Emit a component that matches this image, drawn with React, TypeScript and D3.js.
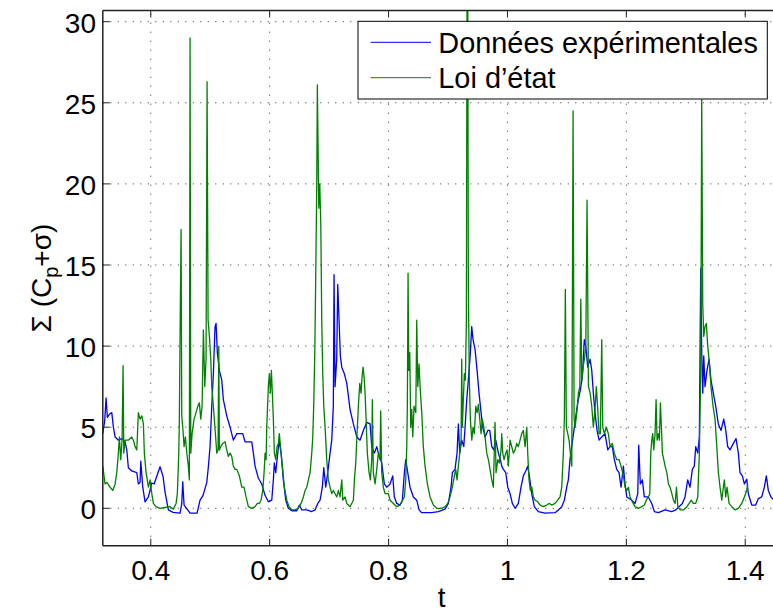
import React from "react";
import * as d3 from "d3";

// ---- data ----
const xTicks = [0.4, 0.6, 0.8, 1.0, 1.2, 1.4];
const xTickLabels = ["0.4", "0.6", "0.8", "1", "1.2", "1.4"];
const yTicks = [0, 5, 10, 15, 20, 25, 30];
const yTickLabels = ["0", "5", "10", "15", "20", "25", "30"];
const seriesNames = ["Données expérimentales", "Loi d\u2019état"];
const seriesColors = ["#0000ff", "#008000"];

const blueSeries: [number, number][] = [
  [0.3193,4.6],[0.3225,5.4],[0.3248,6.8],[0.327,5.6],[0.3304,5.8],[0.3344,5.9],[0.3371,5.0],[0.340,4.4],[0.3455,4.2],[0.3512,4.3],[0.3568,4.1],[0.3596,3.6],[0.3623,2.5],[0.368,2.3],[0.3765,2.2],[0.3791,1.5],[0.382,1.6],[0.3832,2.9],[0.3865,1.3],[0.3904,0.4],[0.396,0.7],[0.4017,1.56],[0.4056,1.5],[0.4156,2.56],[0.4207,1.95],[0.424,1.0],[0.4296,-0.1],[0.4375,-0.25],[0.4493,-0.3],[0.4521,0.3],[0.4538,1.64],[0.456,0.2],[0.4661,-0.3],[0.4779,-0.3],[0.4829,0.5],[0.488,0.8],[0.4942,1.6],[0.4969,2.56],[0.4997,3.8],[0.5026,6.3],[0.5053,8.3],[0.5081,11.2],[0.5098,11.4],[0.512,9.6],[0.5154,8.5],[0.5194,7.9],[0.5221,6.7],[0.5278,5.7],[0.5334,5.0],[0.5389,4.2],[0.5447,4.6],[0.5502,4.6],[0.5547,4.6],[0.5586,4.1],[0.5699,4.1],[0.5726,3.4],[0.5754,2.6],[0.581,1.85],[0.5867,1.5],[0.5922,0.8],[0.5978,0.4],[0.6035,0.5],[0.6062,1.75],[0.6078,2.8],[0.6102,2.2],[0.6136,3.4],[0.6158,4.2],[0.6192,3.4],[0.623,1.75],[0.6271,0.5],[0.6314,0],[0.6372,-0.15],[0.6456,-0.15],[0.65,0.2],[0.654,-0.1],[0.6624,-0.1],[0.6708,-0.2],[0.6764,-0.1],[0.6809,0.3],[0.6848,0.5],[0.6886,1.3],[0.691,2.5],[0.6943,1.3],[0.6977,2.2],[0.7016,3.4],[0.7044,4.2],[0.7071,6.3],[0.7083,14.4],[0.71,7.5],[0.7128,9.2],[0.7145,13.8],[0.7167,11.6],[0.7189,9.4],[0.7213,8.7],[0.7256,8.3],[0.7297,7.7],[0.7352,6.1],[0.7408,5.2],[0.7465,4.4],[0.752,4.2],[0.7576,4.8],[0.7633,5.3],[0.7689,5.2],[0.7717,3.8],[0.7761,3.4],[0.7801,3.8],[0.7828,3.4],[0.7885,2.8],[0.7929,1.5],[0.7969,1.3],[0.8025,1.5],[0.807,2.0],[0.8097,0.7],[0.8138,0.3],[0.8193,0.2],[0.8232,0.5],[0.8266,2.2],[0.8289,3.0],[0.8323,2.2],[0.8361,1.3],[0.8417,0.7],[0.8474,0.5],[0.8513,-0.1],[0.8558,-0.27],[0.8726,-0.27],[0.8837,-0.2],[0.895,-0.05],[0.9006,0.3],[0.9051,1.3],[0.9073,2.2],[0.9118,2.4],[0.9152,3.4],[0.9174,5.2],[0.9197,3.4],[0.9231,4.2],[0.9265,3.8],[0.9287,5.0],[0.9315,6.7],[0.9342,7.9],[0.9376,9.6],[0.9399,11.2],[0.9421,10.4],[0.9455,9.8],[0.9489,8.5],[0.9522,7.1],[0.9556,5.9],[0.9584,5.0],[0.9623,4.4],[0.9669,4.8],[0.9702,4.8],[0.9736,3.8],[0.977,3.6],[0.9803,4.2],[0.9847,3.4],[0.9881,3.0],[0.9904,2.6],[0.9931,2.4],[0.9971,2.2],[1.0005,1.3],[1.0044,0.9],[1.0082,0.3],[1.0128,0],[1.0183,0.3],[1.0228,1.3],[1.0267,2.0],[1.0308,2.3],[1.0341,2.6],[1.0368,2.0],[1.0408,0.9],[1.0452,0.1],[1.0519,-0.2],[1.0632,-0.3],[1.08,-0.27],[1.0856,-0.1],[1.0913,0.1],[1.0957,0.5],[1.0997,1.3],[1.1024,1.75],[1.1052,3.0],[1.1081,3.8],[1.1125,5.0],[1.1158,5.9],[1.1192,6.7],[1.1226,7.3],[1.126,8.1],[1.1293,10.4],[1.1317,10.0],[1.135,8.7],[1.1389,9.2],[1.1418,8.5],[1.1445,7.1],[1.1473,5.9],[1.1507,4.8],[1.1541,4.2],[1.1586,4.4],[1.1641,4.6],[1.1687,3.6],[1.1726,3.8],[1.1764,3.8],[1.1798,3.0],[1.1838,2.4],[1.1877,2.2],[1.1911,1.3],[1.195,2.6],[1.1978,1.5],[1.2007,0.7],[1.2091,0.5],[1.2147,0.3],[1.2192,0.9],[1.2208,3.9],[1.2235,1.5],[1.2269,1.75],[1.2302,0.7],[1.237,0.7],[1.2427,0.3],[1.2471,-0.2],[1.2538,-0.27],[1.2651,-0.1],[1.2763,-0.2],[1.2831,-0.1],[1.2886,0.1],[1.2942,0.3],[1.2987,0.7],[1.3032,1.75],[1.3071,1.3],[1.311,2.4],[1.3143,2.6],[1.3167,3.8],[1.3201,3.4],[1.3228,4.4],[1.3251,14.8],[1.3268,9.6],[1.3285,7.1],[1.3302,9.4],[1.3323,7.5],[1.3357,8.5],[1.3391,9.2],[1.3424,7.9],[1.3463,7.1],[1.3503,6.3],[1.3547,5.2],[1.3593,4.8],[1.3638,5.5],[1.3672,4.8],[1.3705,3.8],[1.3744,3.6],[1.38,4.0],[1.3845,4.3],[1.3884,3.4],[1.3912,2.2],[1.3951,2.0],[1.3985,1.5],[1.4025,1.8],[1.4052,0.9],[1.4109,0.2],[1.4176,0.2],[1.422,0.6],[1.4277,0.7],[1.4321,1.3],[1.4355,2.0],[1.4388,1.1],[1.4433,0.7],[1.4483,0.5],[1.452,0.4]
];

const greenSeries: [number, number][] = [
  [0.3193,2.6],[0.3231,1.5],[0.326,1.6],[0.3315,1.3],[0.3361,1.1],[0.34,1.5],[0.3428,2.2],[0.3455,3.4],[0.3472,4.4],[0.3495,3.0],[0.3517,4.2],[0.3534,8.8],[0.3546,3.4],[0.3568,4.2],[0.3623,4.2],[0.368,4.4],[0.3707,4.2],[0.3736,3.8],[0.3765,3.6],[0.3791,5.9],[0.382,5.5],[0.3849,5.7],[0.3876,5.2],[0.3892,3.4],[0.3921,2.2],[0.396,1.3],[0.3988,1.75],[0.4017,0.9],[0.4044,0.3],[0.4089,0.1],[0.4156,0],[0.424,0.05],[0.4325,0.1],[0.438,-0.05],[0.4426,0.3],[0.4447,0.9],[0.4471,3.4],[0.4481,5.5],[0.4498,12.9],[0.451,17.2],[0.4521,5.7],[0.4538,5.0],[0.456,3.8],[0.4582,4.4],[0.4606,3.4],[0.4632,2.6],[0.4649,1.75],[0.4661,29.0],[0.4673,3.4],[0.4695,4.6],[0.4728,5.5],[0.4762,5.9],[0.4791,6.3],[0.4817,6.5],[0.4841,5.5],[0.4863,6.3],[0.4885,11.0],[0.4908,7.5],[0.493,9.2],[0.4947,26.3],[0.4964,11.6],[0.4986,10.6],[0.5009,9.2],[0.5026,7.5],[0.5053,6.3],[0.5087,4.6],[0.511,3.4],[0.5132,3.6],[0.5144,10.0],[0.5154,3.6],[0.5177,3.8],[0.5211,4.0],[0.525,4.1],[0.5278,3.6],[0.5305,3.2],[0.5334,3.4],[0.5362,3.2],[0.5389,2.6],[0.5418,2.4],[0.5447,2.4],[0.549,2.0],[0.5531,1.3],[0.5569,1.3],[0.5603,0.7],[0.5642,0.1],[0.5699,0],[0.5754,0.1],[0.5793,0.3],[0.5827,0.3],[0.5855,0.5],[0.5884,1.1],[0.5906,2.2],[0.5923,3.4],[0.594,3.0],[0.5951,5.0],[0.5978,7.5],[0.5995,8.3],[0.6012,7.1],[0.6029,8.5],[0.6045,7.1],[0.6062,5.5],[0.6079,3.4],[0.6103,3.0],[0.6124,3.8],[0.6146,4.0],[0.6163,4.6],[0.6187,3.6],[0.6214,2.6],[0.6247,1.3],[0.6288,0.5],[0.6326,0.1],[0.6372,-0.1],[0.6427,-0.1],[0.6483,0],[0.6528,0.3],[0.6567,0.7],[0.6596,1.1],[0.6624,1.3],[0.6651,1.75],[0.668,2.2],[0.6708,3.4],[0.6725,4.4],[0.6742,6.5],[0.6759,9.6],[0.6775,14.3],[0.6792,20.0],[0.6802,26.1],[0.6814,22.4],[0.6826,18.5],[0.6843,20.0],[0.686,17.5],[0.6876,11.6],[0.6893,8.3],[0.691,6.3],[0.6932,5.0],[0.696,3.0],[0.6987,1.75],[0.7016,1.3],[0.7044,0.9],[0.7071,1.1],[0.71,0.9],[0.7129,0.7],[0.7156,1.1],[0.7184,0.7],[0.7213,1.75],[0.723,0.5],[0.7268,0.7],[0.7297,0.3],[0.7352,0.1],[0.7408,0.5],[0.7425,1.75],[0.7448,2.8],[0.747,4.6],[0.7492,6.3],[0.7516,7.7],[0.7537,7.1],[0.7554,8.1],[0.7571,8.7],[0.7588,8.1],[0.7605,7.1],[0.7622,5.5],[0.7643,3.4],[0.7672,2.2],[0.7694,1.75],[0.7717,3.0],[0.7727,6.7],[0.7744,2.2],[0.7773,1.5],[0.7801,2.4],[0.7828,3.4],[0.7856,3.0],[0.7868,6.0],[0.7885,2.2],[0.7912,1.3],[0.7941,0.9],[0.7997,0.9],[0.8025,0.5],[0.8081,0.3],[0.8138,0.1],[0.8193,0.2],[0.8266,0.7],[0.8289,1.75],[0.8306,3.8],[0.8316,6.3],[0.8328,14.5],[0.834,8.5],[0.8357,9.6],[0.8373,5.0],[0.839,6.1],[0.8407,4.4],[0.8429,6.3],[0.8458,5.9],[0.8474,11.6],[0.8491,7.5],[0.8513,8.9],[0.853,7.5],[0.8558,5.9],[0.8585,3.8],[0.8614,2.6],[0.8653,1.5],[0.8698,0.7],[0.8754,0.2],[0.8811,0],[0.8895,0],[0.895,0.1],[0.8996,0.3],[0.9034,0.7],[0.9073,1.3],[0.9107,2.0],[0.913,2.4],[0.9152,1.75],[0.9174,2.6],[0.9197,3.4],[0.922,4.2],[0.9231,9.2],[0.9241,5.0],[0.9258,6.7],[0.9275,8.3],[0.9292,7.9],[0.9309,11.6],[0.932,32],[0.9332,32],[0.9342,13.7],[0.9359,7.9],[0.9376,5.5],[0.94,4.2],[0.9421,5.0],[0.9443,4.6],[0.9467,6.3],[0.9489,5.9],[0.9511,6.4],[0.9534,5.5],[0.9556,4.6],[0.9578,5.5],[0.9601,5.0],[0.9623,4.4],[0.9652,3.4],[0.9679,3.0],[0.9707,2.4],[0.9736,1.75],[0.9763,1.3],[0.9791,5.3],[0.9808,2.2],[0.9837,3.0],[0.9864,2.8],[0.9892,3.6],[0.9904,4.6],[0.9921,3.4],[0.9943,3.0],[0.9971,3.4],[0.9993,3.6],[1.0015,2.6],[1.0044,4.2],[1.0072,3.8],[1.0099,3.4],[1.0128,3.6],[1.0156,4.0],[1.0183,3.8],[1.0212,4.2],[1.024,4.6],[1.0267,4.8],[1.0296,3.8],[1.0325,5.0],[1.0341,3.4],[1.0363,1.75],[1.0385,1.1],[1.0409,1.3],[1.0436,0.7],[1.0464,0.5],[1.051,0.4],[1.0549,0.2],[1.0604,0.1],[1.0661,0.2],[1.07,0.3],[1.0745,0.2],[1.0801,0.3],[1.0846,0.5],[1.0885,0.7],[1.0913,1.3],[1.094,3.4],[1.0957,5.5],[1.0974,13.5],[1.0991,5.0],[1.1014,4.6],[1.1036,4.2],[1.1058,3.4],[1.1082,2.6],[1.1104,24.5],[1.1121,5.5],[1.1138,5.0],[1.1166,5.9],[1.1193,7.1],[1.1217,7.5],[1.1234,12.9],[1.125,7.9],[1.1273,8.7],[1.1294,9.2],[1.1318,10.0],[1.1339,19.0],[1.1362,7.5],[1.1391,7.1],[1.1418,6.3],[1.1445,5.0],[1.1473,6.1],[1.1495,7.5],[1.1519,6.1],[1.1541,4.6],[1.1563,4.6],[1.1586,10.4],[1.1603,5.0],[1.163,4.6],[1.1664,5.0],[1.1697,4.6],[1.1726,3.8],[1.1764,4.0],[1.1798,3.4],[1.1838,3.0],[1.1877,3.0],[1.1911,2.6],[1.195,2.0],[1.1978,1.3],[1.2007,1.1],[1.2034,1.3],[1.2062,0.7],[1.2101,0.4],[1.2147,0.1],[1.2202,0],[1.2259,0.1],[1.2303,0.2],[1.2336,0.5],[1.237,0.7],[1.2394,0.9],[1.2411,3.4],[1.2427,4.2],[1.2444,4.6],[1.2461,3.6],[1.2483,4.6],[1.25,6.7],[1.2517,4.2],[1.2539,4.6],[1.2556,4.2],[1.2573,6.5],[1.259,5.0],[1.2606,3.4],[1.263,3.0],[1.2652,2.6],[1.2681,2.2],[1.2708,1.5],[1.2736,1.3],[1.2765,0.9],[1.2792,0.5],[1.2821,0.3],[1.2843,1.3],[1.2866,0.1],[1.2905,-0.1],[1.2961,-0.1],[1.3018,0.1],[1.3057,0.3],[1.3091,0.5],[1.3127,0.3],[1.3167,0.3],[1.3201,0.7],[1.3228,3.4],[1.3251,8.5],[1.3268,25.2],[1.3285,12.6],[1.3302,10.6],[1.3323,11.2],[1.3345,11.4],[1.3369,10.0],[1.3391,9.2],[1.3424,7.5],[1.3458,6.3],[1.3492,5.5],[1.3521,3.8],[1.3548,2.2],[1.3576,1.3],[1.3605,0.5],[1.3632,1.3],[1.3648,1.75],[1.3672,0.7],[1.3694,1.3],[1.3728,0.3],[1.3773,0.1],[1.3829,-0.1],[1.3884,0],[1.3941,0.3],[1.3985,0.7],[1.4025,1.1],[1.4042,1.5]
];

// ---- layout ----
const W = 773;
const H = 612;
const PL = 102.8, PR = 780.5, PT = 10.5, PB = 545.7;
const FONT = "'Liberation Sans', Arial, Helvetica, sans-serif";

export default function App() {
  const x = d3.scaleLinear().domain([0.3193, 1.4593]).range([PL, PR]);
  const y = d3.scaleLinear().domain([-2.306, 30.69]).range([PB, PT]);
  const line = d3.line<[number, number]>().x(d => x(d[0])).y(d => y(d[1]));
  const series = [blueSeries, greenSeries];
  const tickLen = 7;

  const legX = 358, legY = 21.3, legW = 409.3, legH = 77.7;
  const legRows = [42.3, 77.7];

  return (
    <svg width={W} height={H} style={{ position: "absolute", left: 0, top: 0, background: "#fff" }} fontFamily={FONT}>
      <rect x={0} y={0} width={W} height={H} fill="#fff" />
      <defs>
        <clipPath id="plotClip">
          <rect x={PL} y={PT} width={PR - PL} height={PB - PT} />
        </clipPath>
      </defs>
      {/* grid */}
      {xTicks.map((t, i) => (
        <line key={"gx" + i} x1={x(t)} x2={x(t)} y1={PB} y2={PT} stroke="#333" strokeWidth={1} strokeDasharray="1,8" />
      ))}
      {yTicks.map((t, i) => (
        <line key={"gy" + i} x1={PL} x2={PR} y1={y(t)} y2={y(t)} stroke="#333" strokeWidth={1} strokeDasharray="1,6.5" />
      ))}
      {/* data */}
      <g clipPath="url(#plotClip)">
        {series.map((s, i) => (
          <path key={"s" + i} d={line(s) || ""} fill="none" stroke={seriesColors[i]} strokeWidth={1.3} strokeLinejoin="round" />
        ))}
      </g>
      {/* ticks */}
      {xTicks.map((t, i) => (
        <g key={"tx" + i}>
          <line x1={x(t)} x2={x(t)} y1={PB} y2={PB - tickLen} stroke="#222" strokeWidth={1} />
          <line x1={x(t)} x2={x(t)} y1={PT} y2={PT + tickLen} stroke="#222" strokeWidth={1} />
          <text x={x(t)} y={580} fontSize={28} textAnchor="middle" fill="#000">{xTickLabels[i]}</text>
        </g>
      ))}
      {yTicks.map((t, i) => (
        <g key={"ty" + i}>
          <line x1={PL} x2={PL + tickLen} y1={y(t)} y2={y(t)} stroke="#222" strokeWidth={1} />
          <text x={96} y={y(t) + 11} fontSize={28} textAnchor="end" fill="#000">{yTickLabels[i]}</text>
        </g>
      ))}
      {/* axes box */}
      <line x1={PL} x2={PL} y1={PT} y2={PB} stroke="#222" strokeWidth={1.5} />
      <line x1={PL} x2={PR} y1={PB} y2={PB} stroke="#222" strokeWidth={1.5} />
      <line x1={PL} x2={PR} y1={PT} y2={PT} stroke="#222" strokeWidth={1.5} />
      {/* axis labels */}
      <text x={(PL + PR) / 2} y={607} fontSize={28} textAnchor="middle" fill="#000">t</text>
      <text transform={`translate(51,${(PT + PB) / 2}) rotate(-90)`} fontSize={28} textAnchor="middle" fill="#000">
        {"\u03A3 (C"}
        <tspan fontSize={20} dy={7}>p</tspan>
        <tspan dy={-7}>{"+\u03C3)"}</tspan>
      </text>
      {/* legend */}
      <rect x={legX} y={legY} width={legW} height={legH} fill="#fff" stroke="#000" strokeWidth={1} />
      {seriesNames.map((name, i) => (
        <g key={"lg" + i}>
          <line x1={370.7} x2={431} y1={legRows[i]} y2={legRows[i]} stroke={seriesColors[i]} strokeWidth={1} />
          <text x={438.3} y={legRows[i] + 10.5} fontSize={28.9} fill="#000">{name}</text>
        </g>
      ))}
    </svg>
  );
}
